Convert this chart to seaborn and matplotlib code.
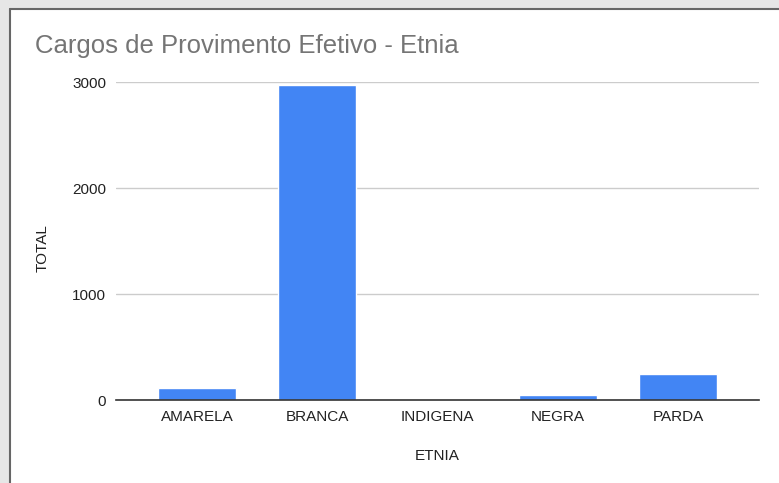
import matplotlib
matplotlib.use("Agg")
import matplotlib.pyplot as plt
import seaborn as sns
import pandas as pd
from matplotlib.patches import Rectangle
from matplotlib.lines import Line2D

categories = ["AMARELA", "BRANCA", "INDIGENA", "NEGRA", "PARDA"]
totals = [113, 2972, 2, 50, 245]
y_ticks = [0, 1000, 2000, 3000]

df = pd.DataFrame({"ETNIA": categories, "TOTAL": totals})

sns.set_theme(style="white")
plt.rcParams['font.family'] = ['Liberation Sans', 'DejaVu Sans']

fig = plt.figure(figsize=(7.79, 4.83), dpi=100)
fig.patch.set_facecolor("#e6e6e6")
W, H = 779, 483
# white panel with dark frame on left and top
fig.add_artist(Rectangle((10 / W, 0), 1, 1 - 9 / H, transform=fig.transFigure,
                         facecolor="white", edgecolor="none", zorder=0))
fig.add_artist(Line2D([9.5 / W, 9.5 / W], [0, 1 - 8.5 / H], transform=fig.transFigure,
                      color="#666666", lw=1.5))
fig.add_artist(Line2D([9.5 / W, 1], [1 - 8.5 / H, 1 - 8.5 / H], transform=fig.transFigure,
                      color="#666666", lw=1.5))

ax = fig.add_axes([116 / W, 83 / H, 643 / W, 318 / H])
ax.set_facecolor("none")
sns.barplot(data=df, x="ETNIA", y="TOTAL", color="#4285F4", width=0.65,
            saturation=1, ax=ax, zorder=3)
ax.set_xlim(-0.674, 4.674)
ax.set_ylim(0, 3000)
ax.set_yticks(y_ticks)
ax.set_yticklabels([str(t) for t in y_ticks])
ax.yaxis.grid(True, color="#cccccc", lw=1)
ax.set_axisbelow(True)
for s in ["top", "right", "left"]:
    ax.spines[s].set_visible(False)
ax.spines["bottom"].set_color("#333333")
ax.spines["bottom"].set_linewidth(1.2)
ax.spines["bottom"].set_zorder(4)
ax.tick_params(axis="both", length=0, labelsize=11, labelcolor="#222222")
ax.tick_params(axis="y", pad=7)
ax.tick_params(axis="x", pad=7)
ax.set_xlabel("ETNIA", fontsize=11, color="#222222", labelpad=18)
ax.set_ylabel("TOTAL", fontsize=11, color="#222222")
ax.yaxis.set_label_coords((50 - 116) / 643, 0.478)

fig.text(35 / W, 1 - 53 / H, "Cargos de Provimento Efetivo - Etnia", fontsize=18.5,
         color="#757575", ha="left", va="baseline")

fig.savefig("out.png", dpi=100, facecolor=fig.get_facecolor())
